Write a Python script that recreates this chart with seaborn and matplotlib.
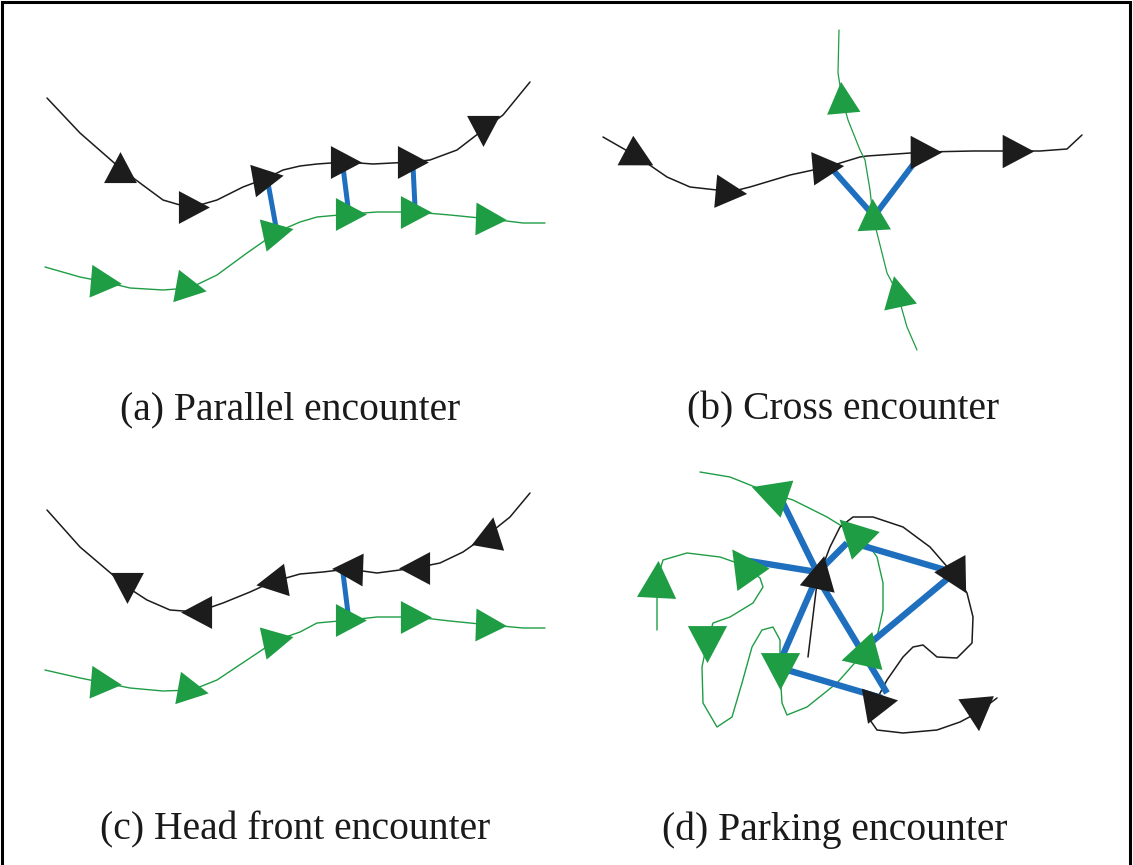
import numpy as np
import pandas as pd
import matplotlib
matplotlib.use("Agg")
import matplotlib.pyplot as plt
from matplotlib.markers import MarkerStyle
from matplotlib.path import Path
from matplotlib.transforms import Affine2D
import seaborn as sns

sns.set_theme(style="white")
plt.rcParams['font.family'] = ['Liberation Serif', 'DejaVu Serif']

# ---------------- data (pixel-space positions) ----------------
# (a) Parallel encounter
a_black_x = [47, 80, 120, 140, 163, 180, 193, 217, 243, 267, 283, 300, 317, 345, 373, 412, 430, 457, 483, 503, 530]
a_black_y = [98, 133, 168, 183, 200, 205, 207, 200, 187, 178, 170, 166, 164, 162, 164, 162, 160, 150, 130, 115, 82]
a_green_x = [45, 80, 105, 130, 163, 190, 217, 247, 277, 300, 317, 350, 377, 415, 450, 490, 523, 545]
a_green_y = [267, 277, 282, 288, 290, 288, 275, 253, 232, 222, 217, 214, 212, 212, 215, 219, 223, 223]
a_black_tri_x = [120, 193, 267, 345, 412, 483]
a_black_tri_y = [168, 207, 178, 162, 162, 130]
a_black_tri_ang = [0, -90, -80, -90, -90, 180]
a_green_tri_x = [105, 190, 277, 350, 415, 490]
a_green_tri_y = [282, 288, 232, 214, 212, 219]
a_green_tri_ang = [-95, -100, -78, -90, -90, -92]
a_link_x0 = [268, 343, 413]
a_link_y0 = [183, 167, 166]
a_link_x1 = [276, 348, 415]
a_link_y1 = [227, 207, 207]

# (b) Cross encounter
b_black_x = [603, 638, 667, 690, 717, 730, 750, 790, 827, 860, 867, 925, 973, 1017, 1040, 1067, 1082]
b_black_y = [137, 157, 177, 187, 190, 192, 187, 175, 167, 157, 156, 152, 151, 151, 151, 149, 135]
b_green_x = [839, 838, 842, 848, 860, 865, 870, 873, 880, 887, 897, 907, 917]
b_green_y = [30, 73, 98, 120, 150, 160, 190, 217, 245, 273, 292, 327, 350]
b_black_tri_x = [638, 730, 827, 925, 1017]
b_black_tri_y = [157, 192, 167, 152, 151]
b_black_tri_ang = [-118, -95, -85, -90, -90]
b_green_tri_x = [842, 873, 897]
b_green_tri_y = [98, 215, 292]
b_green_tri_ang = [5, 3, 12]
b_link_x0 = [833, 918]
b_link_y0 = [170, 158]
b_link_x1 = [873, 875]
b_link_y1 = [215, 215]

# (c) Head front encounter
c_black_x = [47, 80, 127, 147, 170, 197, 223, 250, 272, 300, 323, 348, 377, 415, 440, 463, 490, 510, 530]
c_black_y = [510, 547, 587, 600, 610, 612, 603, 592, 582, 574, 572, 569, 573, 568, 563, 552, 533, 517, 493]
c_green_x = [45, 80, 105, 130, 163, 192, 217, 247, 277, 300, 317, 350, 377, 415, 450, 490, 523, 545]
c_green_y = [670, 678, 683, 688, 691, 690, 680, 660, 640, 632, 623, 620, 617, 617, 621, 625, 628, 628]
c_black_tri_x = [127, 197, 272, 348, 415, 490]
c_black_tri_y = [587, 612, 582, 569, 568, 533]
c_black_tri_ang = [180, 90, 100, 88, 90, -10]
c_green_tri_x = [105, 192, 277, 350, 415, 490]
c_green_tri_y = [683, 690, 640, 620, 617, 625]
c_green_tri_ang = [-95, -100, -78, -90, -90, -92]
c_link_x0 = [343]
c_link_y0 = [573]
c_link_x1 = [348]
c_link_y1 = [613]

# (d) Parking encounter
d_green_x = [657, 657, 663, 687, 720, 743, 760, 763, 753, 730, 713, 707, 702, 703, 717, 732, 742, 752,
             762, 773, 780, 780, 782, 787, 807, 837, 860, 877, 883, 883, 877, 867, 853, 827, 793, 770, 730, 700]
d_green_y = [630, 580, 560, 553, 557, 565, 578, 587, 603, 617, 623, 643, 667, 703, 727, 717, 683, 647,
             630, 627, 640, 670, 703, 715, 707, 683, 657, 637, 610, 583, 557, 543, 533, 517, 500, 493, 477, 472]
d_black_x = [808, 817, 820, 830, 840, 853, 873, 903, 930, 950, 957, 967, 973, 972, 957, 937, 923, 913,
             903, 887, 878, 880, 870, 877, 903, 937, 960, 977, 997]
d_black_y = [657, 583, 573, 547, 527, 517, 517, 527, 547, 570, 577, 593, 617, 643, 658, 657, 645, 647,
             657, 680, 697, 703, 720, 730, 733, 730, 722, 713, 698]
d_green_tri_x = [770, 853, 743, 657, 707, 780, 860]
d_green_tri_y = [493, 533, 565, 580, 643, 670, 655]
d_green_tri_ang = [71, 45, 35, -3, 180, 180, 105]
d_black_tri_x = [820, 957, 880, 977]
d_black_tri_y = [573, 577, 703, 713]
d_black_tri_ang = [-12, 209, -80, 185]
d_link_x0 = [780, 743, 847, 860, 952, 817, 817, 787]
d_link_y0 = [497, 560, 543, 545, 575, 577, 577, 670]
d_link_x1 = [817, 817, 817, 952, 862, 782, 887, 882]
d_link_y1 = [572, 572, 573, 572, 650, 657, 693, 698]

captions = ["(a) Parallel encounter", "(b) Cross encounter",
            "(c) Head front encounter", "(d) Parking encounter"]
caption_x = [290, 843, 295, 835]
caption_y = [410, 410, 830, 830]

# ---------------- styles ----------------
BLACK = "#1c1c1c"
GREEN = "#1f9d45"
BLUE = "#1f6fbf"
W, H = 1133, 865

fig = plt.figure(figsize=(W / 100, H / 100), dpi=100)
ax = fig.add_axes([0, 0, 1, 1])
ax.set_xlim(0, W)
ax.set_ylim(H, 0)
ax.axis("off")

TRI_PATH = Path([(0.0, 0.62), (-0.62, -0.55), (0.62, -0.55), (0.0, 0.62)],
                [Path.MOVETO, Path.LINETO, Path.LINETO, Path.CLOSEPOLY])


def tri_marker(angle):
    return MarkerStyle(TRI_PATH, transform=Affine2D().rotate_deg(angle))


def curve(xs, ys, color, lw):
    df = pd.DataFrame({"x": xs, "y": ys})
    sns.lineplot(data=df, x="x", y="y", sort=False, estimator=None, color=color,
                 linewidth=lw, ax=ax, zorder=2, legend=False,
                 solid_joinstyle="round", solid_capstyle="round")


def links(x0, y0, x1, y1, lw):
    for i in range(len(x0)):
        df = pd.DataFrame({"x": [x0[i], x1[i]], "y": [y0[i], y1[i]]})
        sns.lineplot(data=df, x="x", y="y", sort=False, estimator=None, color=BLUE,
                     linewidth=lw, ax=ax, zorder=3, legend=False,
                     solid_capstyle="butt")


def triangles(xs, ys, angs, color, size):
    for x, y, a in zip(xs, ys, angs):
        sns.scatterplot(x=[x], y=[y], marker=tri_marker(a), s=size, color=color,
                        linewidth=0, ax=ax, zorder=4, legend=False)


# (a)
curve(a_black_x, a_black_y, BLACK, 1.1)
curve(a_green_x, a_green_y, GREEN, 1.0)
links(a_link_x0, a_link_y0, a_link_x1, a_link_y1, 3.6)
triangles(a_black_tri_x, a_black_tri_y, a_black_tri_ang, BLACK, 560)
triangles(a_green_tri_x, a_green_tri_y, a_green_tri_ang, GREEN, 560)

# (b)
curve(b_black_x, b_black_y, BLACK, 1.1)
curve(b_green_x, b_green_y, GREEN, 0.9)
links(b_link_x0, b_link_y0, b_link_x1, b_link_y1, 4.2)
triangles(b_black_tri_x, b_black_tri_y, b_black_tri_ang, BLACK, 580)
triangles(b_green_tri_x, b_green_tri_y, b_green_tri_ang, GREEN, 580)

# (c)
curve(c_black_x, c_black_y, BLACK, 1.1)
curve(c_green_x, c_green_y, GREEN, 1.0)
links(c_link_x0, c_link_y0, c_link_x1, c_link_y1, 3.6)
triangles(c_black_tri_x, c_black_tri_y, c_black_tri_ang, BLACK, 560)
triangles(c_green_tri_x, c_green_tri_y, c_green_tri_ang, GREEN, 560)

# (d)
curve(d_green_x, d_green_y, GREEN, 1.0)
curve(d_black_x, d_black_y, BLACK, 1.1)
links(d_link_x0, d_link_y0, d_link_x1, d_link_y1, 4.6)
triangles(d_green_tri_x, d_green_tri_y, d_green_tri_ang, GREEN, 800)
triangles(d_black_tri_x, d_black_tri_y, d_black_tri_ang, BLACK, 660)

# captions
for t, x, y in zip(captions, caption_x, caption_y):
    ax.text(x, y, t, ha="center", va="center", fontsize=28.5, color="#1a1a1a")

# outer frame
ax.plot([2, 2, W - 3, W - 3], [H + 5, 2, 2, H + 5], color="black", lw=2.2,
        solid_joinstyle="miter", zorder=5, clip_on=False)

ax.set_xlabel("")
ax.set_ylabel("")
fig.savefig("out.png", dpi=100)
